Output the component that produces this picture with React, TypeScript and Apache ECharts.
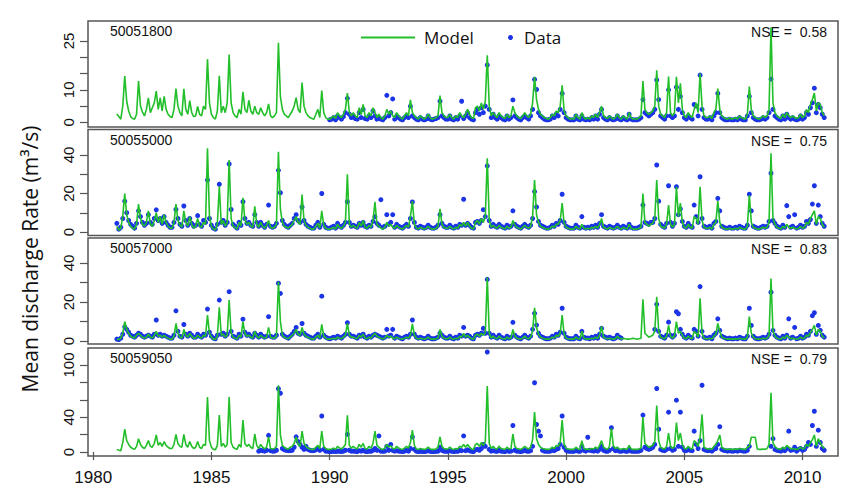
import React, { useEffect, useRef } from "react";
import * as echarts from "echarts";

// ---- time axis ----
const startYear = 1981; // monthly steps from Jan 1981
const xTicks = [1980, 1985, 1990, 1995, 2000, 2005, 2010];

// ---- station labels ----
const stations = ["50051800", "50055000", "50057000", "50059050"];
const nseValues = ["0.58", "0.75", "0.83", "0.79"];

// ---- y tick / label values per panel ----
const yTicks1 = [0, 5, 10, 15, 20, 25];
const yLabels1 = [0, 10, 25];
const yTicks2 = [0, 10, 20, 30, 40];
const yLabels2 = [0, 20, 40];
const yTicks3 = [0, 10, 20, 30, 40];
const yLabels3 = [0, 20, 40];
const yTicks4 = [0, 20, 40, 60, 80, 100];
const yLabels4 = [0, 40, 100];

const N = null;

// ---- Panel 1 : 50051800 ----
const model1 = [
  2.6, 1.8, 1.0, 5.0, 14.2, 6.5, 3.5, 1.8, 1.2, 1.0, 2.5, 12.7,
  5.0, 3.2, 2.0, 4.0, 7.5, 3.0, 4.5, 6.0, 9.6, 4.0, 7.5, 3.5,
  8.0, 4.0, 2.5, 1.8, 1.5, 4.0, 10.4, 5.0, 3.0, 2.0, 10.3, 4.0,
  2.5, 6.7, 3.0, 1.8, 2.0, 4.9, 2.5, 2.0, 5.0, 4.0, 19.4, 6.0,
  2.5, 1.5, 1.0, 3.5, 14.3, 3.0, 5.0, 3.0, 6.0, 20.8, 6.0, 3.0,
  2.0, 1.5, 4.0, 2.5, 9.4, 4.0, 3.0, 6.8, 3.5, 2.5, 5.0, 3.0,
  2.5, 4.5, 3.0, 2.0, 3.0, 5.7, 2.0, 1.5, 2.0, 3.0, 24.4, 8.0,
  4.0, 2.5, 2.0, 1.5, 2.5, 3.5, 5.0, 7.6, 4.0, 3.0, 12.2, 5.0,
  3.0, 2.0, 1.5, 1.2, 1.0, 2.5, 4.0, 1.5, 9.8, 3.0, 1.5, 1.0,
  1.0, 1.5, 2.0, 1.2, 3.0, 2.0, 1.5, 2.5, 4.0, 9.0, 3.0, 2.0,
  3.0, 2.0, 1.5, 4.5, 2.5, 5.5, 2.0, 1.5, 3.0, 2.0, 4.5, 3.0,
  1.5, 2.5, 1.5, 1.0, 2.0, 4.0, 2.5, 3.5, 2.0, 1.5, 3.0, 2.0,
  1.5, 1.0, 2.0, 3.0, 2.0, 6.9, 3.0, 2.0, 1.5, 1.0, 2.0, 1.5,
  1.0, 1.5, 2.5, 1.5, 1.0, 1.2, 1.5, 2.0, 8.2, 3.0, 2.0, 1.5,
  1.5, 2.5, 1.5, 1.0, 2.0, 1.5, 3.0, 2.0, 1.5, 2.5, 4.0, 2.5,
  1.5, 1.2, 4.5, 5.0, 3.5, 6.0, 4.0, 6.5, 20.6, 5.0, 2.0, 3.0,
  2.0, 1.5, 3.0, 2.0, 1.5, 1.2, 2.5, 1.5, 2.0, 5.0, 3.0, 2.0,
  1.5, 1.2, 2.0, 3.0, 2.0, 1.5, 2.5, 6.0, 14.0, 7.0, 4.0, 2.5,
  2.0, 1.5, 1.2, 1.0, 1.5, 2.5, 2.0, 3.5, 3.0, 5.0, 11.4, 3.5,
  2.0, 1.5, 1.0, 1.2, 1.0, 2.5, 1.5, 1.0, 3.0, 1.5, 1.0, 1.5,
  1.0, 2.0, 1.5, 2.5, 1.5, 3.0, 5.0, 2.0, 1.5, 1.2, 2.0, 1.5,
  1.0, 1.5, 2.5, 1.5, 1.0, 2.0, 1.5, 1.0, 3.0, 1.5, 1.0, 1.2,
  1.0, 1.5, 2.0, 12.7, 4.0, 3.0, 2.5, 3.0, 3.5, 5.0, 16.0, 5.0,
  2.5, 2.0, 1.5, 3.0, 14.1, 3.0, 2.0, 3.0, 14.0, 6.0, 12.0, 4.0,
  2.0, 1.5, 3.0, 2.0, 1.5, 4.0, 6.0, 3.0, 15.0, 5.0, 2.0, 1.5,
  1.5, 2.0, 1.2, 3.0, 4.0, 10.4, 4.0, 2.0, 1.5, 1.2, 1.0, 1.5,
  1.0, 1.2, 1.5, 1.0, 2.0, 1.5, 1.2, 1.0, 2.5, 11.0, 4.0, 2.0,
  1.5, 1.2, 1.0, 1.5, 2.0, 1.5, 2.0, 4.0, 29.2, 6.0, 3.0, 2.0,
  1.5, 1.2, 2.5, 1.5, 3.0, 2.0, 1.5, 2.0, 1.5, 1.2, 1.5, 2.5,
  1.5, 2.0, 4.0, 3.0, 5.5, 7.0, 9.0, 3.5, 6.0, 5.5, 3.0, 2.0,
];
const data1 = [
  N, N, N, N, N, N, N, N, N, N, N, N,
  N, N, N, N, N, N, N, N, N, N, N, N,
  N, N, N, N, N, N, N, N, N, N, N, N,
  N, N, N, N, N, N, N, N, N, N, N, N,
  N, N, N, N, N, N, N, N, N, N, N, N,
  N, N, N, N, N, N, N, N, N, N, N, N,
  N, N, N, N, N, N, N, N, N, N, N, N,
  N, N, N, N, N, N, N, N, N, N, N, N,
  N, N, N, N, N, N, N, N, N, N, N, N,
  0.8, 1.0, 1.5, 0.8, 2.0, 1.5, 1.0, 1.8, 3.0, 7.4, 2.5, 1.5,
  2.0, 1.2, 1.0, 3.0, 1.5, 4.0, 1.2, 1.0, 2.0, 1.5, 3.5, 2.0,
  1.0, 1.5, 1.0, 0.8, 1.5, 8.3, 2.0, 3.0, 7.2, 1.0, 2.0, 1.5,
  1.0, 0.8, 1.5, 2.0, 1.5, 5.0, 2.0, 1.5, 1.0, 0.8, 1.5, 1.0,
  0.8, 1.0, 2.0, 1.0, 0.8, 1.0, 1.2, 1.5, 6.5, 2.0, 1.5, 1.0,
  1.0, 2.0, 1.0, 0.8, 1.5, 1.0, 2.0, 6.5, 1.2, 2.0, 3.0, 1.5,
  1.0, 0.8, 3.0, 4.0, 2.5, 4.5, 3.0, 5.0, 17.6, 4.0, 1.5, 2.5,
  1.5, 1.0, 2.0, 1.5, 1.0, 0.8, 2.0, 1.0, 1.5, 6.9, 2.0, 1.5,
  1.0, 0.8, 1.5, 2.0, 1.5, 1.0, 2.0, 4.0, 13.2, 10.1, 3.0, 2.0,
  1.5, 1.0, 0.8, 0.8, 1.0, 2.0, 1.5, 2.5, 2.0, 4.0, 8.9, 3.0,
  1.5, 1.0, 0.8, 0.8, 0.8, 2.0, 1.0, 0.8, 2.0, 1.0, 0.8, 1.0,
  0.8, 1.5, 1.0, 2.0, 1.0, 2.5, 4.0, 1.5, 1.0, 0.8, 1.5, 1.0,
  0.8, 1.0, 2.0, 1.0, 0.8, 1.5, 1.0, 0.8, 2.5, 1.0, 0.8, 0.8,
  0.8, 1.0, 1.5, 7.0, 3.0, 2.5, 2.0, 2.5, 3.0, 4.0, 13.0, 7.0,
  2.0, 1.5, 1.0, 2.0, 10.0, 2.0, 1.5, 2.0, 10.8, 4.0, 8.0, 3.0,
  1.5, 1.0, 2.0, 1.5, 1.0, 5.5, 5.0, 2.0, 14.5, 4.0, 1.5, 1.0,
  1.0, 1.5, 0.8, 2.0, 3.0, 8.9, 3.0, 1.5, 1.0, 0.8, 0.8, 1.0,
  0.8, 0.8, 1.0, 0.8, 1.5, 1.0, 0.8, 0.8, 2.0, 8.0, 3.0, 1.5,
  1.0, 0.8, 0.8, 1.0, 1.5, 1.0, 1.5, 3.0, 13.3, 4.0, 2.0, 1.5,
  1.0, 0.8, 2.0, 1.0, 2.5, 1.5, 1.0, 1.5, 1.0, 0.8, 1.0, 2.0,
  1.0, 1.5, 3.0, 2.5, 4.5, 6.0, 10.5, 3.0, 5.5, 4.5, 2.5, 1.5,
];

// ---- Panel 2 : 50055000 ----
const model2 = [
  3.0, 1.0, 2.0, 8.0, 20.0, 9.0, 5.0, 3.0, 2.0, 1.5, 4.0, 14.5,
  7.0, 4.0, 3.0, 5.0, 11.0, 4.0, 3.0, 6.0, 10.0, 5.0, 8.0, 4.0,
  9.0, 5.0, 3.0, 2.0, 2.0, 5.0, 14.5, 6.0, 3.5, 2.5, 11.0, 5.0,
  3.0, 8.0, 4.0, 2.0, 3.0, 7.0, 3.0, 2.5, 5.0, 4.0, 43.5, 8.0,
  3.0, 1.5, 1.0, 4.0, 23.7, 4.0, 6.0, 3.0, 5.0, 37.4, 7.0, 3.0,
  2.5, 1.5, 5.0, 3.0, 17.8, 6.0, 4.0, 5.0, 3.0, 2.5, 13.3, 4.0,
  2.5, 5.0, 3.0, 2.0, 3.5, 6.0, 2.5, 2.0, 2.5, 4.0, 41.7, 12.0,
  5.0, 3.0, 2.5, 2.0, 3.0, 4.0, 6.0, 8.0, 5.0, 4.0, 19.5, 6.0,
  3.5, 2.5, 2.0, 1.5, 1.5, 3.0, 4.5, 2.0, 11.0, 3.5, 2.0, 1.5,
  1.5, 2.0, 2.5, 1.5, 4.0, 2.5, 2.0, 3.0, 5.0, 30.0, 4.0, 2.5,
  3.5, 2.5, 2.0, 5.0, 3.0, 6.0, 2.5, 2.0, 3.5, 2.5, 6.0, 15.7,
  4.0, 3.0, 2.0, 1.5, 2.5, 5.0, 3.0, 4.0, 2.5, 2.0, 3.5, 2.5,
  2.0, 1.5, 2.5, 3.5, 2.5, 8.0, 16.0, 4.0, 2.0, 1.5, 2.5, 2.0,
  1.5, 2.0, 3.0, 2.0, 1.5, 1.5, 2.0, 3.0, 12.0, 4.0, 2.5, 2.0,
  2.0, 3.0, 2.0, 1.5, 2.5, 2.0, 4.0, 3.0, 5.0, 3.0, 5.0, 3.0,
  2.0, 1.5, 5.0, 6.0, 4.0, 7.0, 5.0, 8.0, 38.3, 6.0, 2.5, 3.5,
  2.5, 2.0, 3.5, 2.5, 2.0, 1.5, 3.0, 2.0, 2.5, 6.0, 3.5, 2.5,
  2.0, 1.5, 2.5, 3.5, 2.5, 2.0, 3.0, 8.0, 27.0, 9.0, 5.0, 3.0,
  2.5, 2.0, 1.5, 1.5, 2.0, 3.0, 2.5, 4.0, 4.0, 6.0, 15.0, 4.5,
  2.5, 2.0, 1.5, 1.5, 1.5, 3.0, 2.0, 1.5, 4.0, 2.0, 1.5, 2.0,
  1.5, 2.5, 2.0, 3.0, 2.0, 4.0, 7.0, 2.5, 2.0, 1.5, 2.5, 2.0,
  1.5, 2.0, 3.0, 2.0, 1.5, 2.5, 2.0, 1.5, 4.0, 2.0, 1.5, 1.5,
  1.5, 2.0, 2.5, 20.0, 5.0, 4.0, 3.0, 4.0, 4.5, 7.0, 27.0, 7.0,
  3.0, 2.5, 2.0, 4.0, 14.0, 4.0, 2.5, 4.0, 23.5, 8.0, 15.0, 5.0,
  2.5, 2.0, 4.0, 2.5, 2.0, 8.0, 7.0, 4.0, 23.5, 6.0, 2.5, 2.0,
  2.0, 2.5, 1.5, 4.0, 5.0, 16.0, 5.0, 2.5, 2.0, 1.5, 1.5, 2.0,
  1.5, 1.5, 2.0, 1.5, 2.5, 2.0, 1.5, 1.5, 3.0, 19.0, 5.0, 2.5,
  2.0, 1.5, 1.5, 2.0, 2.5, 2.0, 2.5, 5.0, 40.9, 7.0, 4.0, 2.5,
  2.0, 1.5, 3.0, 2.0, 4.0, 2.5, 2.0, 2.5, 2.0, 1.5, 2.0, 3.0,
  2.0, 2.5, 5.0, 4.0, 7.0, 9.0, 11.0, 4.0, 8.0, 7.0, 4.0, 2.5,
];
const data2 = [
  4.5, 1.5, 2.5, 7.0, 16.0, 10.0, 6.0, 4.0, 3.0, 2.0, 4.5, 11.0,
  8.0, 5.0, 3.5, 4.5, 9.0, 5.0, 4.0, 7.0, 11.5, 6.0, 7.0, 4.5,
  8.0, 5.0, 3.5, 2.5, 2.5, 5.0, 11.7, 7.0, 4.0, 3.0, 13.5, 6.0,
  3.5, 7.0, 4.5, 3.0, 3.5, 8.5, 4.0, 3.0, 6.0, 5.0, 27.0, 7.0,
  3.5, 2.0, 1.5, 4.0, 24.8, 5.0, 6.0, 3.5, 5.0, 35.3, 11.7, 4.0,
  3.0, 2.0, 5.0, 3.5, 15.7, 7.0, 4.5, 5.0, 3.5, 3.0, 9.0, 5.0,
  3.0, 5.0, 3.5, 2.5, 4.0, 14.0, 3.0, 2.5, 3.0, 4.5, 32.0, 20.4,
  6.0, 4.0, 3.0, 2.5, 3.5, 4.5, 7.0, 9.0, 6.0, 5.0, 13.0, 6.0,
  4.0, 3.0, 2.5, 2.0, 2.0, 3.5, 5.0, 2.5, 20.0, 4.0, 2.5, 2.0,
  2.0, 2.5, 3.0, 2.0, 4.5, 3.0, 2.5, 3.5, 5.0, 15.7, 5.0, 3.0,
  3.5, 3.0, 2.5, 4.5, 3.5, 5.0, 3.0, 2.5, 3.5, 3.0, 5.5, 8.0,
  4.5, 3.5, 16.8, 2.5, 3.0, 9.0, 4.0, 5.0, 9.0, 2.5, 4.0, 3.0,
  2.5, 2.0, 3.0, 4.0, 3.0, 7.0, 15.6, 5.0, 2.5, 2.0, 3.0, 2.5,
  2.0, 2.5, 3.5, 2.5, 2.0, 2.0, 2.5, 3.5, 9.0, 4.5, 3.0, 2.5,
  2.5, 3.5, 2.5, 2.0, 3.0, 2.5, 4.0, 3.5, 17.0, 3.5, 4.5, 3.5,
  2.5, 2.0, 5.0, 5.5, 4.5, 6.0, 11.6, 8.0, 34.3, 6.0, 3.0, 4.0,
  3.0, 2.5, 4.0, 3.0, 2.5, 2.0, 3.5, 2.5, 3.0, 11.0, 4.0, 3.0,
  2.5, 2.0, 3.0, 4.0, 3.0, 2.5, 3.5, 7.0, 21.0, 13.0, 5.5, 3.5,
  3.0, 2.5, 2.0, 2.0, 2.5, 3.5, 3.0, 4.5, 4.0, 6.0, 19.6, 5.0,
  3.0, 2.5, 2.0, 2.0, 2.0, 3.5, 2.5, 2.0, 8.0, 2.5, 2.0, 2.5,
  2.0, 3.0, 2.5, 3.5, 2.5, 4.5, 9.0, 3.0, 2.5, 2.0, 3.0, 2.5,
  2.0, 2.5, 3.5, 2.5, 2.0, 3.0, 2.5, 2.0, 4.0, 2.5, 2.0, 2.0,
  2.0, 2.5, 3.0, 14.0, 5.0, 4.5, 4.0, 5.0, 5.0, 7.0, 34.8, 16.0,
  4.0, 3.0, 2.5, 4.5, 24.0, 5.0, 3.0, 4.5, 23.5, 9.0, 12.0, 5.5,
  3.0, 2.5, 4.5, 3.0, 2.5, 14.0, 8.0, 5.0, 28.7, 7.0, 3.0, 2.5,
  2.5, 3.0, 2.0, 4.5, 5.5, 17.5, 11.0, 3.0, 2.5, 2.0, 2.0, 2.5,
  2.0, 2.0, 2.5, 2.0, 3.0, 2.5, 2.0, 2.0, 3.5, 19.6, 11.0, 3.0,
  2.5, 2.0, 2.0, 2.5, 3.0, 2.5, 3.0, 5.5, 30.5, 6.0, 4.5, 3.0,
  2.5, 2.0, 3.5, 2.5, 13.7, 8.0, 2.5, 3.0, 9.0, 2.0, 2.5, 3.5,
  2.5, 3.0, 5.5, 4.5, 6.5, 14.5, 24.0, 4.5, 14.0, 8.0, 4.5, 3.0,
];

// ---- Panel 3 : 50057000 ----
const model3 = [
  1.0, 0.8, 1.5, 4.0, 10.0, 6.0, 4.0, 2.5, 2.0, 1.5, 3.0, 4.0,
  3.0, 2.0, 1.5, 2.0, 3.5, 2.0, 1.5, 3.0, 5.0, 2.5, 3.0, 2.0,
  3.0, 2.0, 1.5, 1.0, 1.0, 2.5, 9.0, 4.0, 2.0, 1.5, 6.0, 3.0,
  2.0, 4.0, 2.5, 1.5, 1.5, 3.0, 2.0, 1.5, 3.0, 2.5, 13.3, 4.0,
  2.0, 1.0, 0.8, 2.5, 17.3, 3.0, 3.5, 2.0, 3.0, 21.0, 4.0, 2.0,
  1.5, 1.0, 3.0, 2.0, 10.0, 4.0, 2.5, 3.0, 2.0, 1.5, 5.0, 2.5,
  1.5, 3.0, 2.0, 1.5, 2.0, 7.0, 2.0, 1.5, 1.5, 2.5, 30.4, 10.0,
  3.0, 2.0, 1.5, 1.2, 2.0, 3.0, 4.0, 6.0, 3.5, 3.0, 7.0, 3.5,
  2.5, 2.0, 1.5, 1.0, 1.0, 2.0, 3.0, 1.5, 8.6, 2.5, 1.5, 1.0,
  1.0, 1.2, 1.5, 1.0, 2.0, 1.5, 1.2, 2.0, 3.0, 9.0, 3.0, 2.0,
  2.0, 1.5, 1.2, 3.0, 2.0, 3.5, 1.5, 1.2, 2.0, 1.5, 3.0, 4.0,
  2.5, 2.0, 1.5, 1.0, 1.5, 3.0, 2.0, 2.5, 1.5, 1.2, 2.0, 1.5,
  1.2, 1.0, 1.5, 2.0, 1.5, 3.0, 8.8, 3.0, 1.5, 1.0, 1.5, 1.2,
  1.0, 1.2, 2.0, 1.2, 1.0, 1.0, 1.2, 1.5, 6.0, 2.5, 1.5, 1.2,
  1.2, 2.0, 1.2, 1.0, 1.5, 1.2, 2.5, 2.0, 4.0, 2.0, 3.0, 2.0,
  1.2, 1.0, 3.0, 3.5, 2.5, 4.0, 3.0, 4.0, 32.5, 4.0, 1.5, 2.5,
  1.5, 1.2, 2.5, 1.5, 1.2, 1.0, 2.0, 1.2, 1.5, 6.0, 2.5, 1.5,
  1.2, 1.0, 1.5, 2.5, 1.5, 1.2, 2.0, 5.0, 17.0, 7.0, 3.5, 2.0,
  1.5, 1.2, 1.0, 1.0, 1.2, 2.0, 1.5, 3.0, 2.5, 4.0, 13.3, 3.5,
  1.5, 1.2, 1.0, 1.0, 1.0, 2.0, 1.2, 1.0, 5.0, 1.5, 1.0, 1.2,
  1.0, 1.5, 1.2, 2.0, 1.2, 3.0, 7.5, 2.0, 1.5, 1.2, 1.5, 1.2,
  1.0, 1.2, 2.5, 1.5, 1.0, 1.5, 1.2, 1.0, 1.0, 1.2, 1.5, 1.2,
  1.0, 1.2, 1.5, 21.4, 4.0, 3.0, 2.0, 2.5, 3.0, 5.0, 22.7, 5.0,
  2.0, 1.5, 1.2, 2.5, 8.0, 2.5, 1.5, 2.5, 10.0, 4.0, 5.0, 3.0,
  1.5, 1.2, 2.5, 1.5, 1.2, 5.0, 4.0, 2.0, 21.9, 4.0, 1.5, 1.2,
  1.2, 1.5, 1.0, 2.5, 3.5, 9.0, 5.0, 2.0, 1.5, 1.2, 1.0, 1.2,
  1.0, 1.0, 1.2, 1.0, 1.5, 1.2, 1.0, 1.0, 2.0, 12.6, 4.0, 2.0,
  1.2, 1.0, 1.0, 1.2, 1.5, 1.2, 1.5, 3.0, 32.0, 5.0, 2.5, 1.5,
  1.2, 1.0, 2.0, 1.2, 3.0, 2.0, 1.2, 1.5, 1.2, 1.0, 1.2, 2.0,
  1.2, 1.5, 3.0, 2.5, 4.5, 6.0, 8.0, 3.0, 6.0, 5.0, 2.5, 1.5,
];
const data3 = [
  1.0, 0.8, 1.5, 3.5, 7.3, 6.0, 4.5, 3.0, 2.5, 2.0, 3.0, 4.0,
  3.5, 2.5, 2.0, 2.5, 3.0, 2.5, 2.0, 3.5, 10.8, 3.0, 3.5, 2.5,
  3.0, 2.5, 2.0, 1.5, 1.5, 3.0, 15.5, 5.0, 2.5, 2.0, 8.5, 3.5,
  2.5, 4.0, 3.0, 2.0, 2.0, 3.5, 2.5, 2.0, 3.5, 3.0, 16.4, 4.5,
  2.5, 1.5, 1.2, 3.0, 21.0, 3.5, 4.0, 2.5, 3.5, 25.3, 5.0, 2.5,
  2.0, 1.5, 3.5, 2.5, 11.2, 4.5, 3.0, 3.5, 2.5, 2.0, 4.0, 3.0,
  2.0, 3.5, 2.5, 2.0, 2.5, 12.5, 2.5, 2.0, 2.0, 3.0, 29.6, 24.4,
  3.5, 2.5, 2.0, 1.5, 2.5, 3.5, 5.0, 7.0, 4.0, 3.5, 9.0, 4.0,
  3.0, 2.5, 2.0, 1.5, 1.5, 2.5, 3.5, 2.0, 23.0, 3.0, 2.0, 1.5,
  1.2, 1.5, 2.0, 1.5, 2.5, 2.0, 1.5, 2.5, 3.5, 9.4, 3.5, 2.5,
  2.5, 2.0, 1.5, 3.0, 2.5, 3.5, 2.0, 1.5, 2.5, 2.0, 3.0, 3.5,
  3.0, 2.5, 2.0, 1.5, 2.0, 6.0, 2.5, 3.0, 6.0, 1.5, 2.5, 2.0,
  1.5, 1.2, 2.0, 2.5, 2.0, 3.5, 10.8, 3.5, 2.0, 1.5, 2.0, 1.5,
  1.2, 1.5, 2.5, 1.5, 1.2, 1.2, 1.5, 2.0, 4.0, 3.0, 2.0, 1.5,
  1.5, 2.5, 1.5, 1.2, 2.0, 1.5, 3.0, 2.5, 7.0, 2.5, 3.0, 2.5,
  1.5, 1.2, 3.0, 3.5, 3.0, 4.0, 6.5, 4.0, 31.6, 4.0, 2.0, 3.0,
  2.0, 1.5, 3.0, 2.0, 1.5, 1.2, 2.5, 1.5, 2.0, 9.6, 3.0, 2.0,
  1.5, 1.2, 2.0, 3.0, 2.0, 1.5, 2.5, 6.0, 14.2, 8.2, 4.0, 2.5,
  2.0, 1.5, 1.2, 1.2, 1.5, 2.5, 2.0, 3.5, 3.0, 4.5, 16.8, 4.0,
  2.0, 1.5, 1.2, 1.2, 1.2, 2.5, 1.5, 1.2, 5.0, 2.0, 1.5, 1.5,
  1.2, 2.0, 1.5, 2.5, 1.5, 3.5, 6.5, 2.5, 2.0, 1.5, 2.0, 1.5,
  1.2, 1.5, 3.0, 2.0, 1.5, N, N, N, N, N, N, N,
  N, N, N, N, N, N, N, N, N, 6.0, 18.8, 5.0,
  2.5, 2.0, 1.5, 3.0, 9.7, 3.0, 2.0, 3.0, 15.0, 14.0, 6.0, 3.5,
  2.0, 1.5, 3.0, 2.0, 1.5, 6.0, 5.0, 2.5, 27.9, 5.0, 2.0, 1.5,
  1.5, 2.0, 1.2, 3.0, 4.0, 11.4, 5.5, 2.5, 2.0, 1.5, 1.2, 1.5,
  1.2, 1.2, 1.5, 1.2, 2.0, 1.5, 1.2, 1.2, 2.5, 16.8, 8.0, 2.5,
  1.5, 1.2, 1.2, 1.5, 2.0, 1.5, 2.0, 3.5, 25.0, 5.5, 3.0, 2.0,
  1.5, 1.2, 2.5, 1.5, 3.0, 11.4, 1.5, 2.0, 7.0, 1.2, 1.5, 2.5,
  1.5, 2.0, 3.5, 3.0, 5.0, 13.0, 14.5, 3.5, 8.0, 5.5, 3.0, 2.0,
];

// ---- Panel 4 : 50059050 ----
const model4 = [
  3.0, 2.0, 1.5, 10.9, 26.2, 13.1, 8.7, 5.5, 4.0, 3.0, 6.5, 15.3,
  8.7, 5.5, 4.0, 7.6, 13.1, 6.5, 5.5, 9.8, 19.6, 7.6, 10.9, 6.5,
  12.0, 7.6, 5.5, 4.0, 4.0, 8.7, 20.3, 9.8, 6.5, 5.5, 20.3, 8.7,
  5.5, 12.0, 6.5, 4.0, 5.5, 12.0, 5.5, 4.0, 8.7, 7.6, 63.2, 13.1,
  5.5, 3.0, 2.5, 7.6, 42.5, 6.5, 9.8, 5.5, 8.7, 63.2, 10.9, 5.5,
  4.0, 3.0, 8.7, 5.5, 36.7, 9.8, 6.5, 8.7, 5.5, 4.0, 20.7, 7.6,
  4.0, 8.7, 5.5, 3.5, 5.5, 17.4, 4.0, 3.5, 4.0, 6.5, 76.8, 19.6,
  7.6, 5.5, 4.0, 3.5, 5.5, 6.5, 9.8, 17.4, 8.7, 6.5, 24.0, 9.8,
  6.5, 4.5, 3.5, 3.0, 3.0, 5.5, 7.6, 4.0, 24.0, 6.5, 4.0, 3.0,
  3.0, 3.5, 4.5, 3.0, 6.5, 4.5, 3.5, 5.5, 8.7, 42.1, 7.6, 4.5,
  6.5, 4.5, 3.5, 8.7, 5.5, 9.8, 4.0, 3.5, 6.5, 4.5, 9.8, 24.0,
  7.6, 5.5, 3.5, 3.0, 4.5, 8.7, 5.5, 7.1, 4.0, 3.5, 6.5, 4.5,
  3.5, 3.0, 4.5, 6.5, 4.5, 10.9, 25.1, 7.6, 3.5, 3.0, 4.0, 3.5,
  3.0, 3.5, 5.5, 3.5, 3.0, 3.0, 3.5, 5.5, 17.4, 6.5, 4.0, 3.5,
  3.5, 5.5, 3.5, 3.0, 4.0, 3.5, 6.5, 5.5, 8.7, 5.5, 8.7, 5.5,
  3.5, 3.0, 8.7, 9.8, 6.5, 10.9, 7.6, 12.0, 75.8, 9.8, 4.0, 6.5,
  4.0, 3.5, 6.5, 4.0, 3.5, 3.0, 5.5, 3.5, 4.0, 20.7, 6.5, 4.0,
  3.5, 3.0, 4.5, 6.5, 4.5, 3.5, 5.5, 14.2, 45.8, 15.3, 8.7, 5.5,
  4.0, 3.5, 3.0, 3.0, 3.5, 5.5, 4.0, 7.6, 6.5, 10.9, 36.7, 8.7,
  4.0, 3.5, 3.0, 3.0, 3.0, 5.5, 3.5, 3.0, 13.1, 4.0, 3.0, 3.5,
  3.0, 4.0, 3.5, 5.5, 3.5, 7.6, 13.1, 5.5, 4.0, 3.0, 6.5, 27.3,
  6.5, 4.0, 5.5, 3.5, 3.0, 4.0, 3.5, 3.0, 7.6, 3.5, 3.0, 3.0,
  3.0, 3.5, 4.5, 40.3, 9.8, 7.6, 5.5, 6.5, 7.6, 12.0, 53.4, 13.1,
  5.5, 4.0, 3.5, 6.5, 21.8, 6.5, 4.0, 6.5, 33.8, 13.1, 21.8, 8.7,
  4.0, 3.5, 6.5, 4.0, 3.5, 13.1, 10.9, 6.5, 16.4, 43.2, 5.5, 4.0,
  3.5, 4.0, 3.0, 6.5, 8.7, 13.1, 19.6, 5.5, 4.0, 3.0, 3.0, 3.5,
  3.0, 3.0, 3.5, 3.0, 4.0, 3.5, 3.0, 3.0, 5.5, 6.5, 17.0, 17.0,
  17.0, 3.5, 3.0, 3.0, 3.5, 3.0, 4.0, 8.7, 68.1, 10.9, 6.5, 4.0,
  3.5, 3.0, 5.5, 3.5, 7.6, 5.5, 3.5, 4.0, 3.5, 3.0, 3.5, 5.5,
  3.5, 4.0, 8.7, 6.5, 10.9, 14.2, 19.6, 6.5, 15.3, 10.9, 6.5, 4.0,
];
const data4 = [
  N, N, N, N, N, N, N, N, N, N, N, N,
  N, N, N, N, N, N, N, N, N, N, N, N,
  N, N, N, N, N, N, N, N, N, N, N, N,
  N, N, N, N, N, N, N, N, N, N, N, N,
  N, N, N, N, N, N, N, N, N, N, N, N,
  N, N, N, N, N, N, N, N, N, N, N, N,
  1.0, 2.0, 1.5, 1.0, 2.0, 19.1, 1.5, 1.0, 1.0, 2.0, 72.7, 67.6,
  4.0, 2.5, 2.0, 1.5, 1.5, 2.0, 5.5, 17.4, 12.0, 8.7, 5.5, 3.0,
  6.5, 3.0, 2.0, 1.5, 1.5, 2.5, 4.0, 2.0, 41.4, 3.0, 1.0, 0.8,
  0.5, 0.5, 0.8, 0.5, 1.0, 0.8, 0.5, 1.0, 2.0, 20.3, 2.0, 1.0,
  1.0, 0.8, 0.5, 1.5, 1.0, 2.0, 0.8, 0.5, 1.0, 0.8, 2.0, 4.0,
  2.0, 18.5, 1.0, 0.8, 1.0, 6.5, 2.0, 8.7, 2.0, 1.0, 1.5, 1.0,
  0.8, 0.5, 1.0, 2.0, 1.0, 4.0, 17.4, 3.0, 1.0, 0.5, 0.8, 0.5,
  0.5, 0.8, 1.5, 0.8, 0.5, 0.5, 0.8, 1.0, 5.5, 2.0, 1.0, 0.8,
  0.8, 1.5, 0.8, 0.5, 1.0, 0.8, 2.0, 1.5, 18.5, 1.5, 2.5, 1.5,
  0.8, 0.5, 2.5, 3.0, 2.0, 4.0, 8.7, 6.5, 115.0, 3.0, 1.0, 1.5,
  1.0, 0.8, 2.0, 1.0, 0.8, 0.5, 1.5, 0.8, 1.0, 30.5, 2.0, 1.0,
  0.8, 0.5, 1.0, 2.0, 1.0, 0.8, 1.5, 6.5, 79.6, 31.6, 24.0, 18.5,
  2.0, 1.0, 0.8, 0.8, 1.0, 2.0, 1.5, 3.0, 4.0, 8.7, 41.4, 5.5,
  2.0, 1.0, 0.8, 0.8, 0.8, 2.0, 1.0, 0.8, 6.5, 2.0, 1.0, 17.0,
  2.0, 1.5, 1.0, 2.0, 1.0, 3.0, 6.5, 2.0, 1.0, 0.8, 2.0, 27.9,
  4.0, 1.5, 2.0, 1.0, 0.8, 1.5, 1.0, 0.8, 3.0, 1.0, 0.8, 0.8,
  0.8, 1.0, 2.0, 42.5, 5.5, 4.0, 3.0, 4.0, 5.5, 8.7, 73.0, 26.2,
  3.0, 2.0, 1.5, 3.0, 45.8, 4.0, 2.0, 3.0, 59.6, 6.5, 45.8, 5.5,
  2.0, 1.5, 3.0, 2.0, 1.5, 24.0, 8.7, 4.0, 13.1, 76.8, 3.0, 2.0,
  1.5, 2.0, 1.0, 3.0, 4.0, 8.7, 29.1, 3.0, 2.0, 1.5, 1.0, 1.5,
  1.0, 1.0, 1.5, 1.0, 2.0, 1.5, 1.0, 1.0, 2.0, 6.5, N, N,
  N, N, N, N, N, N, N, N, 6.5, 15.3, 3.0, 2.0,
  1.5, 1.0, 3.0, 1.5, 4.0, 24.0, 2.0, 2.5, 5.5, 1.0, 3.0, 4.0,
  2.0, 3.0, 6.5, 10.9, 8.7, 30.5, 46.9, 6.5, 25.1, 10.9, 4.0, 2.0,
];

const models = [model1, model2, model3, model4];
const datas = [data1, data2, data3, data4];
const yTicks = [yTicks1, yTicks2, yTicks3, yTicks4];
const yLabels = [yLabels1, yLabels2, yLabels3, yLabels4];

// layout (pixels / axis ranges)
const grids = [
  { top: 21, height: 106, min: -1.4, max: 31.1 },
  { top: 129.5, height: 106, min: -1.8, max: 53.2 },
  { top: 238, height: 106, min: -1.5, max: 52.8 },
  { top: 348, height: 108, min: -4.6, max: 119.6 },
];

const GREEN = "#22bf2a";
const BLUE = "#1b34e6";
const AX = "#555555";
const FONT = '"Liberation Sans", Arial, sans-serif';

export default function App() {
  const ref = useRef<HTMLDivElement>(null);
  useEffect(() => {
    document.body.style.margin = "0";
    const chart = echarts.init(ref.current!, null, { renderer: "svg" });
    const tAt = (j: number) => startYear + j / 12;

    const gridOpt = grids.map((g) => ({
      left: 88,
      right: 4,
      top: g.top,
      height: g.height,
      show: true,
      borderColor: AX,
      borderWidth: 1.5,
      backgroundColor: "transparent",
    }));

    const xAxes = grids.map((g, i) => ({
      type: "value",
      gridIndex: i,
      min: 1979.78,
      max: 2011.5,
      position: "bottom",
      axisLine: { show: false },
      splitLine: { show: false },
      axisTick: {
        show: i === 3,
        customValues: xTicks,
        length: 8,
        lineStyle: { color: AX, width: 1.2 },
      },
      axisLabel: {
        show: i === 3,
        customValues: xTicks,
        formatter: (v: number) => String(v),
        fontSize: 17,
        fontFamily: FONT,
        color: "#111",
        margin: 13,
      },
    }));

    const yAxes = grids.map((g, i) => ({
      type: "value",
      gridIndex: i,
      min: g.min,
      max: g.max,
      axisLine: { show: false },
      splitLine: { show: false },
      axisTick: {
        show: true,
        customValues: yTicks[i],
        length: 8,
        lineStyle: { color: AX, width: 1.2 },
      },
      axisLabel: {
        customValues: yLabels[i],
        formatter: (v: number) => String(v),
        rotate: 90,
        fontSize: 15,
        fontFamily: FONT,
        color: "#111",
        margin: 12,
      },
    }));

    const series: any[] = [];
    models.forEach((m, i) => {
      series.push({
        name: "Data",
        type: "scatter",
        xAxisIndex: i,
        yAxisIndex: i,
        symbolSize: 5,
        itemStyle: { color: BLUE, opacity: 1 },
        z: 2,
        data: datas[i]
          .map((v, j) => (v == null ? null : [tAt(j), v]))
          .filter((p) => p !== null),
      });
      series.push({
        name: "Model",
        type: "line",
        xAxisIndex: i,
        yAxisIndex: i,
        symbol: "none",
        showSymbol: false,
        lineStyle: { color: GREEN, width: 1.6 },
        itemStyle: { color: GREEN },
        z: 3,
        data: m.map((v, j) => [tAt(j), v]),
      });
    });

    const graphics: any[] = [];
    grids.forEach((g, i) => {
      graphics.push({
        type: "text",
        x: 110,
        y: g.top + 10,
        style: {
          text: stations[i],
          font: `14px ${FONT}`,
          fill: "#111",
          verticalAlign: "middle",
        },
      });
      graphics.push({
        type: "text",
        x: 827,
        y: g.top + 11,
        style: {
          text: "NSE =  " + nseValues[i],
          font: `14px ${FONT}`,
          fill: "#111",
          align: "right",
          verticalAlign: "middle",
        },
      });
    });
    graphics.push({
      type: "text",
      x: 30,
      y: 259,
      rotation: Math.PI / 2,
      style: {
        text: "Mean discharge Rate (m³/s)",
        font: '21px "Open Sans", sans-serif',
        fill: "#111",
        align: "center",
        verticalAlign: "middle",
      },
    });

    chart.setOption({
      animation: false,
      backgroundColor: "#fff",
      grid: gridOpt,
      xAxis: xAxes,
      yAxis: yAxes,
      legend: [
        {
          data: [{ name: "Model", icon: "rect" }],
          left: 356,
          top: 24,
          itemWidth: 54,
          itemHeight: 2,
          textStyle: {
            fontFamily: '"Open Sans", sans-serif',
            fontSize: 17,
            color: "#111",
            padding: [0, 0, 0, 4],
          },
        },
        {
          data: [{ name: "Data", icon: "circle" }],
          left: 503,
          top: 24,
          itemWidth: 5,
          itemHeight: 5,
          textStyle: {
            fontFamily: '"Open Sans", sans-serif',
            fontSize: 17,
            color: "#111",
            padding: [0, 0, 0, 6],
          },
        },
      ],
      graphic: graphics,
      series,
    });
    return () => chart.dispose();
  }, []);
  return <div ref={ref} style={{ width: 842, height: 496 }} />;
}
